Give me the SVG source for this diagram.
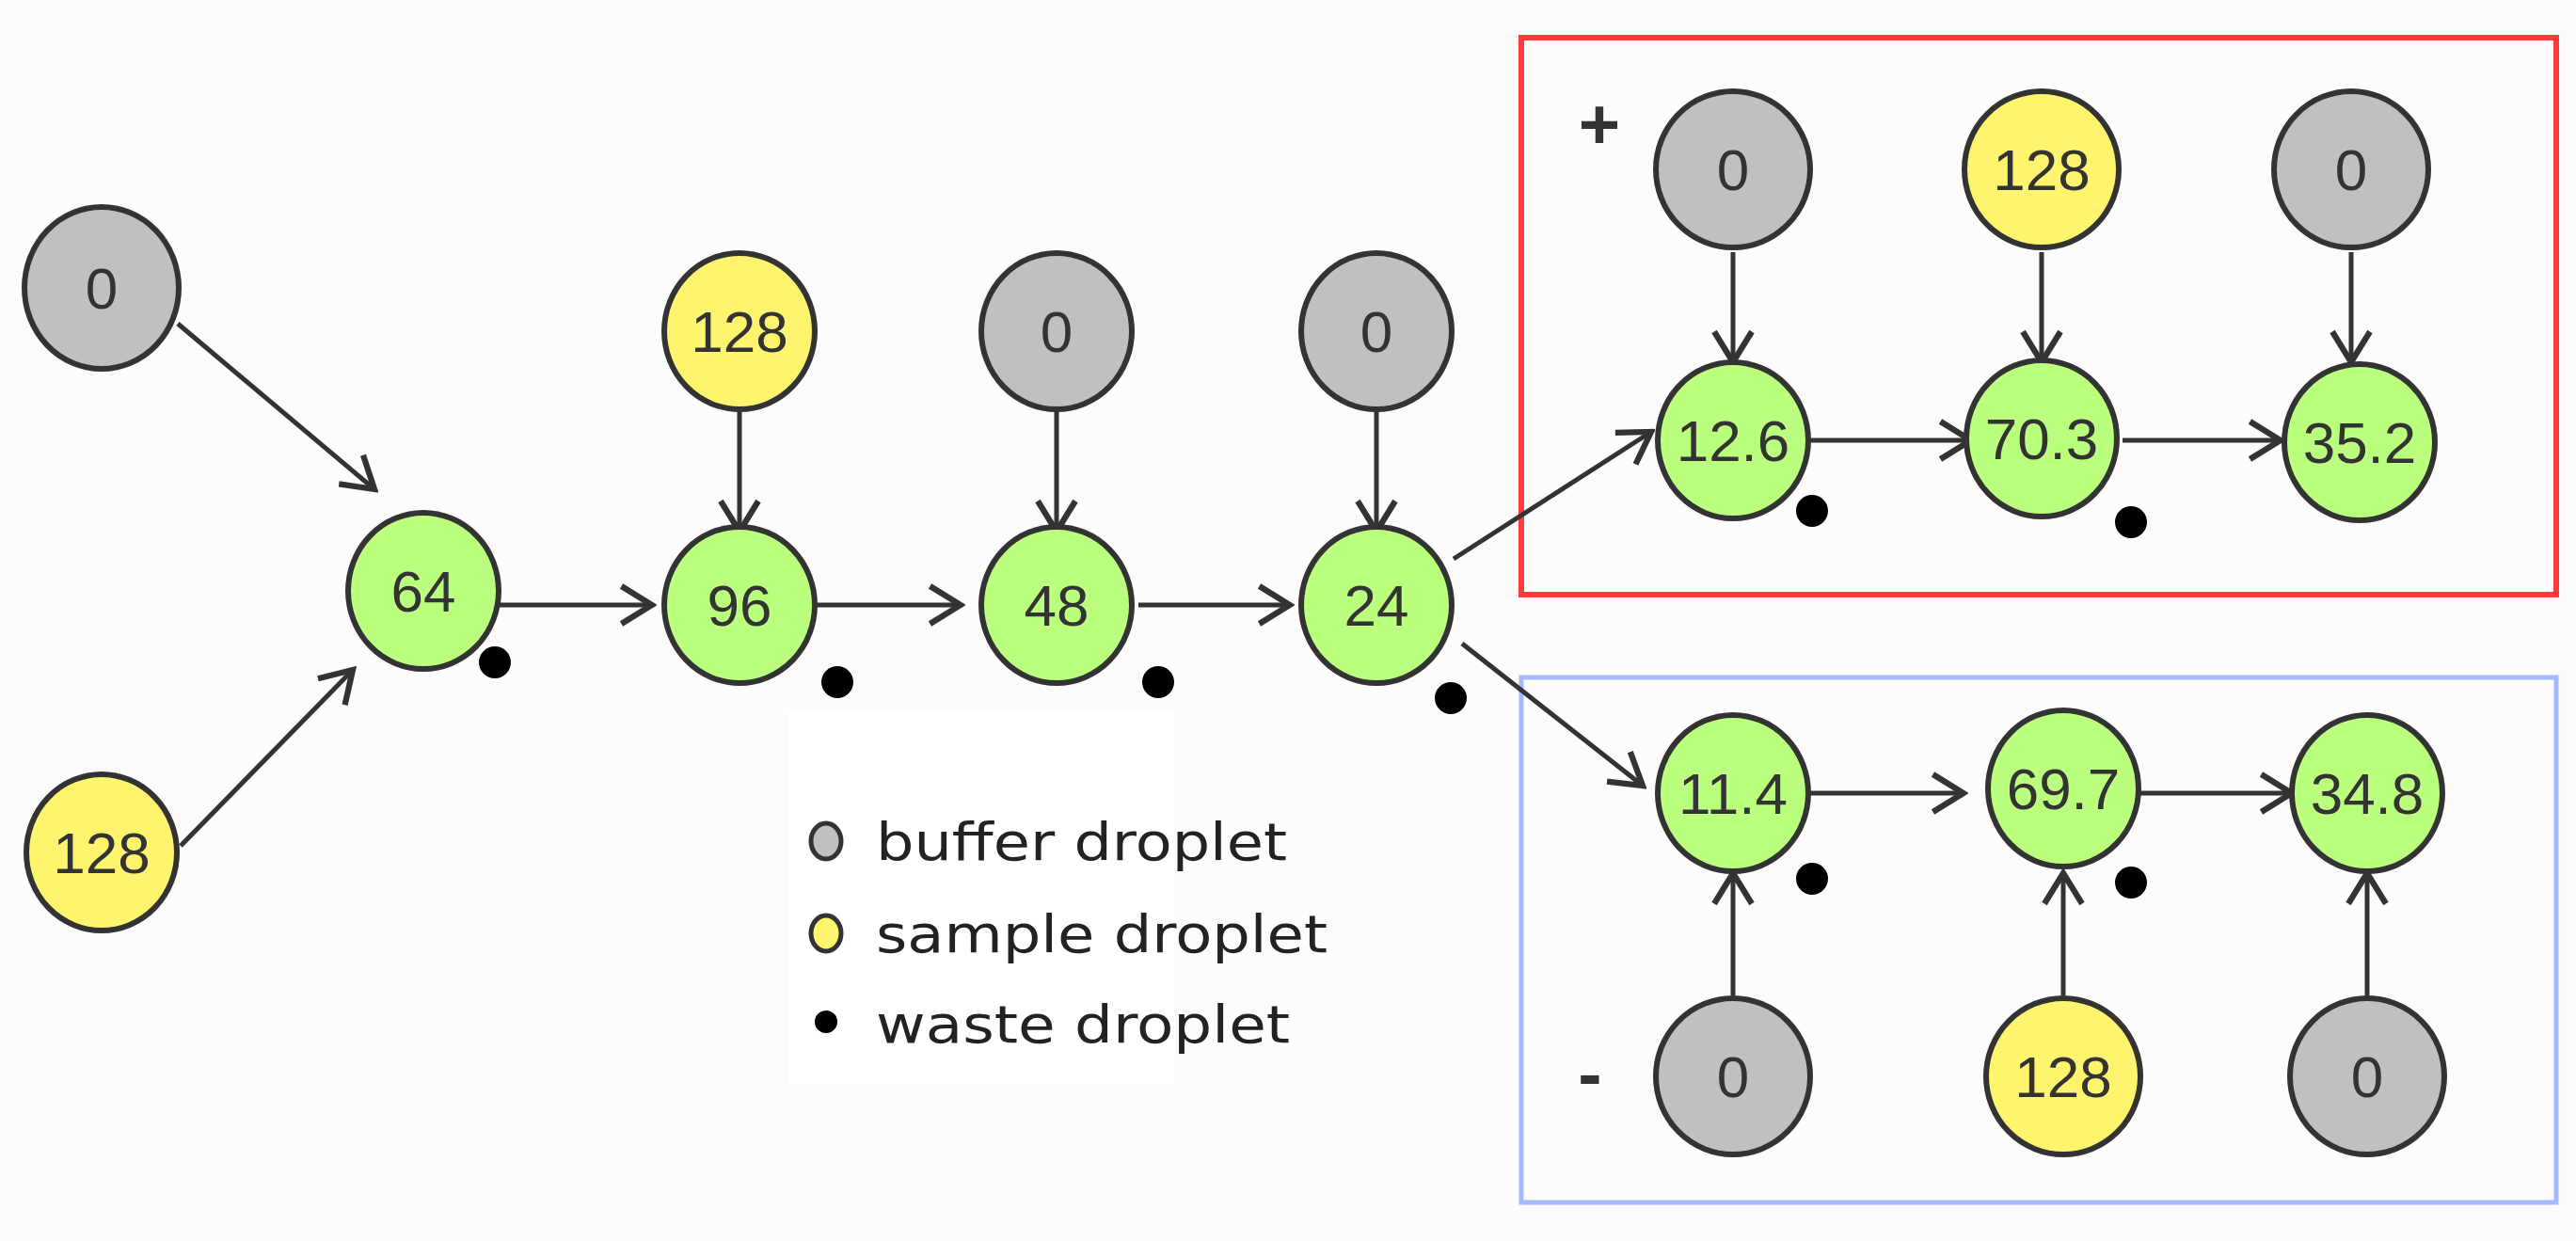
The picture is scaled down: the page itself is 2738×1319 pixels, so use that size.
<svg xmlns="http://www.w3.org/2000/svg" width="2738" height="1319" viewBox="0 0 2738 1319">
<defs>
<style>
.n{stroke:#333;stroke-width:6}
.g{fill:#c0c0c0}.y{fill:#fff46e}.gr{fill:#bbff7f}
.t{font-family:"Liberation Sans",Arial,sans-serif;font-size:62px;fill:#333;text-anchor:middle;dominant-baseline:central}
.c line{stroke:#333;stroke-width:5;marker-end:url(#a)}
.lt{font-family:"DejaVu Sans","Liberation Sans",sans-serif;font-size:56px;fill:#222}
</style>
<marker id="a" viewBox="0 0 20 20" refX="18" refY="10" markerWidth="10" markerHeight="10" markerUnits="strokeWidth" orient="auto">
<path d="M5 2 L18 10 L5 18" fill="none" stroke="#333" stroke-width="2.5"/>
</marker>
</defs>
<rect width="2738" height="1319" fill="#fdfcfb"/>
<rect x="1617" y="40" width="1100" height="592" fill="none" stroke="#ff3b3b" stroke-width="6"/>
<rect x="1617" y="720" width="1100" height="558" fill="none" stroke="#a3baff" stroke-width="5"/>
<text x="1700" y="131" class="t" style="font-size:76px;font-weight:bold">+</text>
<text x="1690" y="1140" class="t" style="font-size:76px;font-weight:bold">-</text>
<g class="c">
<line x1="189" y1="344" x2="398" y2="520"/>
<line x1="192" y1="899" x2="375" y2="712"/>
<line x1="529" y1="643" x2="693" y2="643"/>
<line x1="864" y1="643" x2="1021" y2="643"/>
<line x1="1210" y1="643" x2="1371" y2="643"/>
<line x1="786" y1="437" x2="786" y2="565"/>
<line x1="1123" y1="437" x2="1123" y2="565"/>
<line x1="1463" y1="437" x2="1463" y2="565"/>
<line x1="1545" y1="594" x2="1755" y2="459"/>
<line x1="1554" y1="684" x2="1746" y2="835"/>
<line x1="1921" y1="468" x2="2095" y2="468"/>
<line x1="2256" y1="468" x2="2424" y2="468"/>
<line x1="1842" y1="268" x2="1842" y2="385"/>
<line x1="2170" y1="268" x2="2170" y2="385"/>
<line x1="2499" y1="268" x2="2499" y2="385"/>
<line x1="1921" y1="843" x2="2087" y2="843"/>
<line x1="2270" y1="843" x2="2436" y2="843"/>
<line x1="1842" y1="1058" x2="1842" y2="928"/>
<line x1="2193" y1="1058" x2="2193" y2="928"/>
<line x1="2516" y1="1058" x2="2516" y2="928"/>
</g>
<g id="b0"><ellipse class="n g" cx="108" cy="306" rx="82" ry="86"/><text class="t" x="108" y="306">0</text></g>
<g id="s0"><ellipse class="n y" cx="108" cy="906" rx="80" ry="83"/><text class="t" x="108" y="906">128</text></g>
<g id="m64"><ellipse class="n gr" cx="450" cy="628" rx="80" ry="83"/><text class="t" x="450" y="628">64</text></g>
<g id="m96"><ellipse class="n gr" cx="786" cy="643" rx="80" ry="83"/><text class="t" x="786" y="643">96</text></g>
<g id="m48"><ellipse class="n gr" cx="1123" cy="643" rx="80" ry="83"/><text class="t" x="1123" y="643">48</text></g>
<g id="m24"><ellipse class="n gr" cx="1463" cy="643" rx="80" ry="83"/><text class="t" x="1463" y="643">24</text></g>
<g id="s1"><ellipse class="n y" cx="786" cy="352" rx="80" ry="83"/><text class="t" x="786" y="352">128</text></g>
<g id="b1"><ellipse class="n g" cx="1123" cy="352" rx="80" ry="83"/><text class="t" x="1123" y="352">0</text></g>
<g id="b2"><ellipse class="n g" cx="1463" cy="352" rx="80" ry="83"/><text class="t" x="1463" y="352">0</text></g>
<g id="pb1"><ellipse class="n g" cx="1842" cy="180" rx="82" ry="83"/><text class="t" x="1842" y="180">0</text></g>
<g id="ps1"><ellipse class="n y" cx="2170" cy="180" rx="82" ry="83"/><text class="t" x="2170" y="180">128</text></g>
<g id="pb2"><ellipse class="n g" cx="2499" cy="180" rx="82" ry="83"/><text class="t" x="2499" y="180">0</text></g>
<g id="p1"><ellipse class="n gr" cx="1842" cy="468" rx="80" ry="83"/><text class="t" x="1842" y="468">12.6</text></g>
<g id="p2"><ellipse class="n gr" cx="2170" cy="466" rx="80" ry="83"/><text class="t" x="2170" y="466">70.3</text></g>
<g id="p3"><ellipse class="n gr" cx="2508" cy="470" rx="80" ry="83"/><text class="t" x="2508" y="470">35.2</text></g>
<g id="n1"><ellipse class="n gr" cx="1842" cy="843" rx="80" ry="83"/><text class="t" x="1842" y="843">11.4</text></g>
<g id="n2"><ellipse class="n gr" cx="2193" cy="838" rx="80" ry="83"/><text class="t" x="2193" y="838">69.7</text></g>
<g id="n3"><ellipse class="n gr" cx="2516" cy="843" rx="80" ry="83"/><text class="t" x="2516" y="843">34.8</text></g>
<g id="nb1"><ellipse class="n g" cx="1842" cy="1144" rx="82" ry="83"/><text class="t" x="1842" y="1144">0</text></g>
<g id="ns1"><ellipse class="n y" cx="2193" cy="1144" rx="82" ry="83"/><text class="t" x="2193" y="1144">128</text></g>
<g id="nb2"><ellipse class="n g" cx="2516" cy="1144" rx="82" ry="83"/><text class="t" x="2516" y="1144">0</text></g>
<g id="waste" fill="#000">
<circle cx="526" cy="704" r="17"/><circle cx="890" cy="725" r="17"/><circle cx="1231" cy="725" r="17"/><circle cx="1542" cy="742" r="17"/>
<circle cx="1926" cy="543" r="17"/><circle cx="2265" cy="555" r="17"/><circle cx="1926" cy="934" r="17"/><circle cx="2265" cy="938" r="17"/>
</g>
<g id="legend">
<rect x="838" y="754" width="410" height="398" fill="#fff"/>
<ellipse cx="878" cy="894" rx="16" ry="19" fill="#c0c0c0" stroke="#333" stroke-width="5"/>
<ellipse cx="878" cy="992" rx="16" ry="19" fill="#fff46e" stroke="#333" stroke-width="5"/>
<circle cx="878" cy="1086" r="12" fill="#000"/>
<text class="lt" x="931" y="914" textLength="437" lengthAdjust="spacingAndGlyphs">buffer droplet</text>
<text class="lt" x="931" y="1012" textLength="480" lengthAdjust="spacingAndGlyphs">sample droplet</text>
<text class="lt" x="931" y="1108" textLength="440" lengthAdjust="spacingAndGlyphs">waste droplet</text>
</g>
</svg>
